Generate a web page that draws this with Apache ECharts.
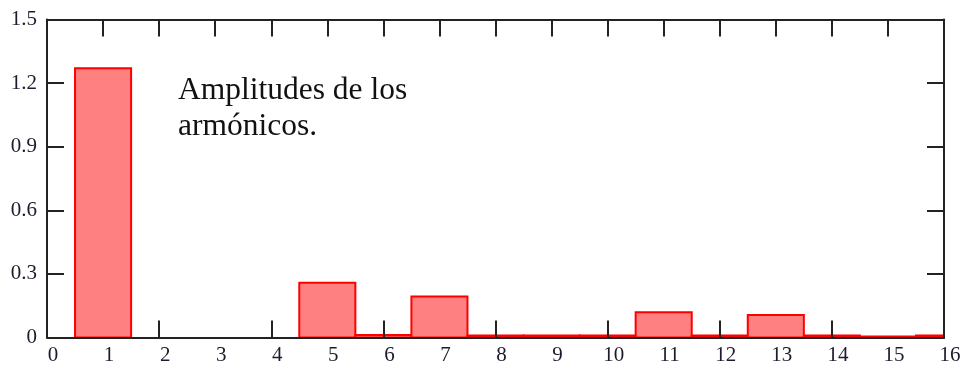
<!DOCTYPE html>
<html>
<head>
<meta charset="utf-8">
<script src="https://cdn.jsdelivr.net/npm/echarts@6/dist/echarts.min.js"></script>
<style>
  html, body { margin: 0; padding: 0; background: #fff; }
  #chart { width: 964px; height: 367px; }
</style>
</head>
<body>
<div id="chart"></div>
<script>
// Harmonic number and its amplitude
const harmonics = [1, 2, 3, 4, 5, 6, 7, 8, 9, 10, 11, 12, 13, 14, 15, 16];
const amplitudes = [1.27, 0, 0, 0, 0.258, 0.012, 0.193, 0.01, 0.01, 0.01, 0.119, 0.01, 0.106, 0.01, 0.005, 0.01];
const evenTicks = [2, 4, 6, 8, 10, 12, 14];
const noteLines = ['Amplitudes de los', 'armónicos.'];

const serif = '"Liberation Serif", "Times New Roman", serif';
const ink = '#222';

const chart = echarts.init(document.getElementById('chart'), null, { renderer: 'canvas' });

const axisLine = { show: true, onZero: false, lineStyle: { color: ink, width: 2 } };
const innerTick = { show: true, inside: true, length: 17, lineStyle: { color: ink, width: 2 } };

chart.setOption({
  animation: false,
  backgroundColor: '#fff',
  grid: { left: 47, right: 20, top: 19.5, bottom: 29.5, containLabel: false },
  xAxis: [
    {
      type: 'value', min: 0, max: 16, interval: 1, position: 'bottom', z: 5,
      axisLine: axisLine,
      axisTick: Object.assign({}, innerTick, { customValues: evenTicks }),
      splitLine: { show: false },
      axisLabel: {
        show: true, margin: 7, color: '#1c1c2e', fontFamily: serif, fontSize: 21,
        padding: [0, 0, 0, 12]
      }
    },
    {
      type: 'value', min: 0, max: 16, interval: 1, position: 'top', z: 5,
      axisLine: axisLine, axisTick: innerTick,
      splitLine: { show: false }, axisLabel: { show: false }
    }
  ],
  yAxis: [
    {
      type: 'value', min: 0, max: 1.5, interval: 0.3, position: 'left', z: 5,
      axisLine: axisLine, axisTick: innerTick,
      splitLine: { show: false },
      axisLabel: { show: true, margin: 10, color: '#1c1c2e', fontFamily: serif, fontSize: 21 }
    },
    {
      type: 'value', min: 0, max: 1.5, interval: 0.3, position: 'right', z: 5,
      axisLine: axisLine, axisTick: innerTick,
      splitLine: { show: false }, axisLabel: { show: false }
    }
  ],
  series: [{
    type: 'custom',
    xAxisIndex: 0,
    yAxisIndex: 0,
    data: harmonics.map((h, i) => [h, amplitudes[i]]),
    renderItem: function (params, api) {
      const n = api.value(0);
      const v = api.value(1);
      if (!v) return null;
      const p0 = api.coord([n - 0.5, v]);
      const p1 = api.coord([n + 0.5, 0]);
      const rect = echarts.graphic.clipRectByRect(
        { x: p0[0], y: p0[1], width: p1[0] - p0[0], height: p1[1] - p0[1] },
        { x: params.coordSys.x, y: params.coordSys.y, width: params.coordSys.width, height: params.coordSys.height }
      );
      if (!rect) return null;
      return {
        type: 'rect',
        shape: rect,
        style: { fill: '#ff8080', stroke: '#ff0000', lineWidth: 2 }
      };
    }
  }],
  graphic: [{
    type: 'text',
    left: 178,
    top: 73,
    style: {
      text: noteLines.join('\n'),
      font: '31.5px ' + serif,
      lineHeight: 36,
      fill: '#111'
    }
  }]
});
</script>
</body>
</html>
